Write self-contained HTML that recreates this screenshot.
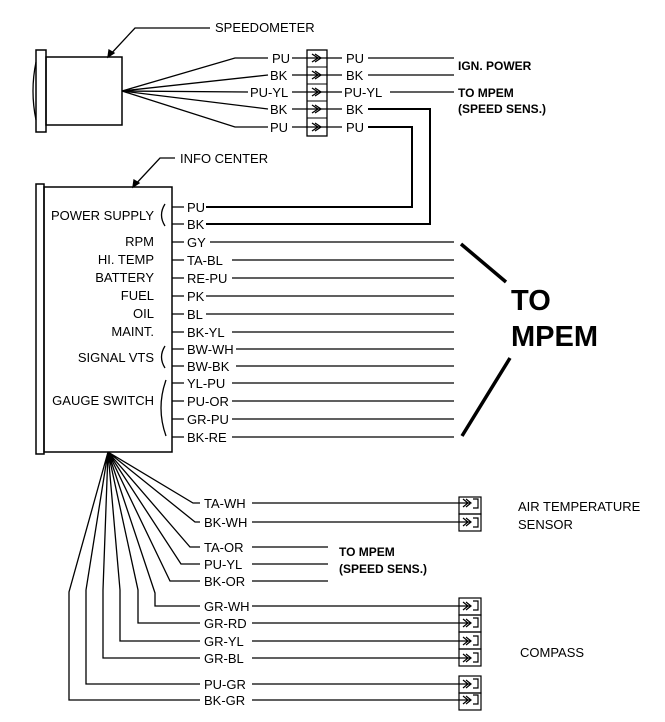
<!DOCTYPE html>
<html><head><meta charset="utf-8"><style>
html,body{margin:0;padding:0;background:#fff;}
svg text{font-family:"Liberation Sans",sans-serif;}
.l{font-size:13px;}
.b{font-weight:bold;font-size:12px;}
</style></head><body>
<svg width="665" height="717" viewBox="0 0 665 717" xmlns="http://www.w3.org/2000/svg" stroke="#000" fill="none" stroke-width="1.3">
<rect x="36" y="50" width="10" height="82" stroke-width="1.5"/>
<rect x="46" y="57" width="76" height="68" stroke-width="1.5"/>
<path d="M36 62 Q30 91 36 120"/>
<path d="M108 57 L135 28 L210 28"/><path d="M108 57 l1-7 l5 3z" fill="#000"/>
<text x="215" y="32" class="l" fill="#000" stroke="none">SPEEDOMETER</text>
<path d="M122 91 L235 58 L268 58"/>
<path d="M122 91 L268 75"/>
<path d="M122 91 L248 92"/>
<path d="M122 91 L268 109"/>
<path d="M122 91 L235 127 L268 127"/>
<g fill="#000" stroke="none" class="l">
<text x="272" y="63">PU</text><text x="270" y="80">BK</text><text x="250" y="97">PU-YL</text><text x="270" y="114">BK</text><text x="270" y="132">PU</text>
<text x="346" y="63">PU</text><text x="346" y="80">BK</text><text x="344" y="97">PU-YL</text><text x="346" y="114">BK</text><text x="346" y="132">PU</text>
</g>
<rect x="307" y="50" width="20" height="86"/>
<g stroke-width="1">
<line x1="307" y1="67" x2="327" y2="67"/><line x1="307" y1="84" x2="327" y2="84"/><line x1="307" y1="101" x2="327" y2="101"/><line x1="307" y1="118" x2="327" y2="118"/>
</g>
<g>
<path d="M292 58h50M292 75h50M292 92h50M292 109h50M292 127h50"/>
<path d="M312 54l6 4-6 4M315 54l6 4-6 4M312 71l6 4-6 4M315 71l6 4-6 4M312 88l6 4-6 4M315 88l6 4-6 4M312 105l6 4-6 4M315 105l6 4-6 4M312 123l6 4-6 4M315 123l6 4-6 4"/>
</g>
<path d="M368 58H454M368 75H454M390 92H454"/>
<path d="M368 109H430V224H206" stroke-width="2"/>
<path d="M368 127H412V207H206" stroke-width="2"/>
<text x="458" y="70" class="b" fill="#000" stroke="none">IGN. POWER</text>
<text x="458" y="97" class="b" fill="#000" stroke="none">TO MPEM</text>
<text x="458" y="113" class="b" fill="#000" stroke="none">(SPEED SENS.)</text>
<rect x="36" y="184" width="8" height="270" stroke-width="1.5"/>
<rect x="44" y="187" width="128" height="265" stroke-width="1.5"/>
<path d="M133 187 L160 158 L175 158"/><path d="M133 187 l1-7 l5 3z" fill="#000"/>
<text x="180" y="163" class="l" fill="#000" stroke="none">INFO CENTER</text>
<g fill="#000" stroke="none" class="l" text-anchor="end">
<text x="154" y="220">POWER SUPPLY</text>
<text x="154" y="246">RPM</text><text x="154" y="264">HI. TEMP</text><text x="154" y="282">BATTERY</text><text x="154" y="300">FUEL</text><text x="154" y="318">OIL</text><text x="154" y="336">MAINT.</text>
<text x="154" y="362">SIGNAL VTS</text><text x="154" y="405">GAUGE SWITCH</text>
</g>
<path d="M165 204 Q158 215 165 226M165 346 Q158 357 165 368M166 380 Q156 408 166 436"/>
<g fill="#000" stroke="none" class="l">
<text x="187" y="212">PU</text><text x="187" y="229">BK</text><text x="187" y="247">GY</text><text x="187" y="265">TA-BL</text><text x="187" y="283">RE-PU</text><text x="187" y="301">PK</text><text x="187" y="319">BL</text><text x="187" y="337">BK-YL</text><text x="187" y="354">BW-WH</text><text x="187" y="371">BW-BK</text><text x="187" y="388">YL-PU</text><text x="187" y="406">PU-OR</text><text x="187" y="424">GR-PU</text><text x="187" y="442">BK-RE</text>
</g>
<path d="M172 207h12M172 224h12M172 242h12M172 260h12M172 278h12M172 296h12M172 314h12M172 332h12M172 349h12M172 366h12M172 383h12M172 401h12M172 419h12M172 437h12"/>
<path d="M210 242H454M232 260H454M232 278H454M206 296H454M206 314H454M232 332H454M236 349H454M236 366H454M232 383H454M232 401H454M232 419H454M232 437H454"/>
<path d="M461 244L506 282M510 358L462 436" stroke-width="3.5"/>
<text x="511" y="310" font-size="29" font-weight="bold" fill="#000" stroke="none">TO</text>
<text x="511" y="346" font-size="29" font-weight="bold" fill="#000" stroke="none">MPEM</text>
<path d="M108 452 L193 503H200M108 452 L195 522H200M108 452 L190 547H200M108 452 L181 564H200M108 452 L170 581H200M108 452 L155 593V606H200M108 452 L138 590V623H200M108 452 L120 590V641H200M108 452 L103 590V658H200M108 452 L86 590V684H200M108 452 L69 592V700H200"/>
<g fill="#000" stroke="none" class="l">
<text x="204" y="508">TA-WH</text><text x="204" y="527">BK-WH</text><text x="204" y="552">TA-OR</text><text x="204" y="569">PU-YL</text><text x="204" y="586">BK-OR</text><text x="204" y="611">GR-WH</text><text x="204" y="628">GR-RD</text><text x="204" y="646">GR-YL</text><text x="204" y="663">GR-BL</text><text x="204" y="689">PU-GR</text><text x="204" y="705">BK-GR</text>
</g>
<path d="M252 503H470M252 522H470M252 547H328M252 564H328M252 581H328M252 606H470M252 623H470M252 641H470M252 658H470M252 684H470M252 700H470"/>
<text x="339" y="556" class="b" fill="#000" stroke="none">TO MPEM</text>
<text x="339" y="573" class="b" fill="#000" stroke="none">(SPEED SENS.)</text>
<g stroke-width="1.2">
<rect x="459" y="497" width="22" height="17"/><rect x="459" y="514" width="22" height="17"/>
<rect x="459" y="598" width="22" height="17"/><rect x="459" y="615" width="22" height="17"/><rect x="459" y="632" width="22" height="17"/><rect x="459" y="649" width="22" height="17"/>
<rect x="459" y="676" width="22" height="17"/><rect x="459" y="693" width="22" height="17"/>
<path d="M463 499l5 4-5 4M466 499l5 4-5 4M473 499h5v9h-5M463 518l5 4-5 4M466 518l5 4-5 4M473 518h5v9h-5
M463 602l5 4-5 4M466 602l5 4-5 4M473 601h5v9h-5M463 619l5 4-5 4M466 619l5 4-5 4M473 618h5v9h-5M463 637l5 4-5 4M466 637l5 4-5 4M473 636h5v9h-5M463 654l5 4-5 4M466 654l5 4-5 4M473 653h5v9h-5
M463 680l5 4-5 4M466 680l5 4-5 4M473 679h5v9h-5M463 696l5 4-5 4M466 696l5 4-5 4M473 695h5v9h-5"/>
</g>
<g fill="#000" stroke="none" class="l">
<text x="518" y="511">AIR TEMPERATURE</text><text x="518" y="529">SENSOR</text><text x="520" y="657">COMPASS</text>
</g>
</svg>
</body></html>
